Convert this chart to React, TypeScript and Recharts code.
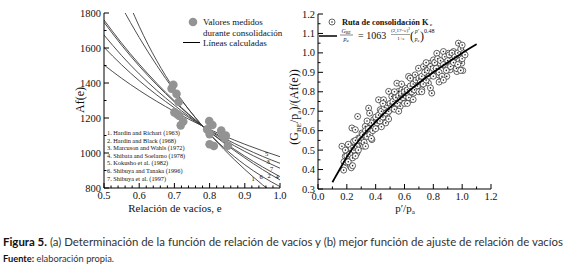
import { ComposedChart, Line, Scatter, XAxis, YAxis } from "recharts";

const SERIF = "'Liberation Serif', 'Times New Roman', serif";
const SANS = "Lato, 'Open Sans', sans-serif";

// ---- (a) void ratio function -------------------------------------------
const E_GRID = [0.5, 0.55, 0.6, 0.7, 0.78, 0.9, 0.95, 1.0];
const AF_HARDIN_RICHART = [2033, 1837, 1660, 1356, 1154, 906, 819, 741];
const AF_HARDIN_BLACK = [1747, 1616, 1497, 1292, 1154, 982, 921, 865];
const AF_MARCUSON = [1604, 1504, 1413, 1258, 1154, 1026, 981, 941];
const AF_SHIBATA = [1760, 1628, 1508, 1298, 1154, 972, 906, 846];
const AF_KOKUSHO = [1503, 1427, 1358, 1237, 1154, 1050, 1013, 979];
const AF_SHIBUYA_TANAKA = [2249, 1962, 1724, 1363, 1154, 933, 865, 808];
const AF_SHIBUYA = [1674, 1557, 1452, 1273, 1154, 1009, 959, 913];

const MEAS_E = [0.697, 0.692, 0.706, 0.712, 0.7, 0.708, 0.714, 0.725, 0.718,
  0.799, 0.808, 0.793, 0.8, 0.8, 0.812, 0.833, 0.838, 0.846, 0.843, 0.852];
const MEAS_AF = [1390, 1368, 1338, 1292, 1232, 1222, 1212, 1180, 1158,
  1182, 1160, 1135, 1108, 1050, 1040, 1128, 1098, 1100, 1085, 1042];

const REFERENCES = [
  "1. Hardin and Richart (1963)",
  "2. Hardin and Black (1968)",
  "3. Marcuson and Wahls (1972)",
  "4. Shibata and Soelarno (1978)",
  "5. Kokusho et al. (1982)",
  "6. Shibuya and Tanaka (1996)",
  "7. Shibuya et al. (1997)",
];

const A_X_MAJOR = [0.5, 0.6, 0.7, 0.8, 0.9, 1.0];
const A_X_MINOR = [0.52, 0.54, 0.56, 0.58, 0.62, 0.64, 0.66, 0.68, 0.72, 0.74, 0.76, 0.78,
  0.82, 0.84, 0.86, 0.88, 0.92, 0.94, 0.96, 0.98];
const A_Y_MAJOR = [800, 1000, 1200, 1400, 1600, 1800];
const A_Y_MINOR = [900, 1100, 1300, 1500, 1700];

// ---- (b) best fit ----------------------------------------------------------
const FIT_P = [0.1, 0.15, 0.2, 0.3, 0.4, 0.5, 0.6, 0.7, 0.8, 0.9, 1.0, 1.1];
const FIT_G = [0.335, 0.4, 0.465, 0.565, 0.645, 0.72, 0.785, 0.845, 0.9, 0.95, 1.0, 1.045];

const KC_P = [
  0.166, 0.178, 0.189, 0.2, 0.212, 0.224, 0.231, 0.224, 0.235, 0.247, 0.259, 0.27, 0.275, 0.282,
  0.293, 0.305, 0.316, 0.328, 0.339, 0.351, 0.358, 0.362, 0.374, 0.386, 0.397, 0.409, 0.42, 0.432,
  0.443, 0.455, 0.466, 0.478, 0.49, 0.501, 0.512, 0.524, 0.536, 0.547, 0.559, 0.57, 0.582, 0.593,
  0.605, 0.616, 0.628, 0.639, 0.651, 0.663, 0.674, 0.686, 0.697, 0.709, 0.72, 0.732, 0.743, 0.755,
  0.766, 0.778, 0.789, 0.801, 0.813, 0.824, 0.836, 0.847, 0.859, 0.87, 0.882, 0.893, 0.905, 0.916,
  0.928, 0.94, 0.951, 0.963, 0.974, 0.986, 0.997, 1.004, 1.009,
  0.18, 0.19, 0.2, 0.21, 0.22, 0.23, 0.24, 0.25, 0.21, 0.24, 0.26, 0.27, 0.28, 0.29, 0.26,
  0.3, 0.31, 0.32, 0.33, 0.34, 0.35, 0.36, 0.37, 0.38, 0.39, 0.4, 0.33, 0.37, 0.4, 0.34,
  0.41, 0.42, 0.43, 0.44, 0.45, 0.46, 0.47, 0.48, 0.49, 0.5, 0.44, 0.47, 0.45, 0.49,
  0.51, 0.52, 0.53, 0.54, 0.55, 0.56, 0.57, 0.58, 0.59, 0.6, 0.53, 0.56, 0.58, 0.6,
  0.61, 0.62, 0.63, 0.64, 0.65, 0.66, 0.67, 0.68, 0.69, 0.7, 0.62, 0.66, 0.64, 0.7,
  0.71, 0.72, 0.73, 0.74, 0.75, 0.76, 0.77, 0.78, 0.79, 0.8, 0.72, 0.75, 0.78, 0.8,
  0.81, 0.82, 0.83, 0.84, 0.85, 0.86, 0.87, 0.88, 0.89, 0.9, 0.84, 0.87,
  0.91, 0.92, 0.93, 0.94, 0.95, 0.96, 0.97, 0.98, 0.99, 1.0, 1.01, 1.02, 0.97, 0.99, 1.0,
];
const KC_G = [
  0.52, 0.397, 0.468, 0.434, 0.494, 0.417, 0.409, 0.52, 0.614, 0.545, 0.605, 0.485, 0.673, 0.562,
  0.52, 0.588, 0.52, 0.622, 0.588, 0.716, 0.69, 0.614, 0.554, 0.656, 0.63, 0.665, 0.759, 0.708,
  0.656, 0.759, 0.716, 0.682, 0.802, 0.708, 0.776, 0.742, 0.776, 0.844, 0.802, 0.725, 0.81, 0.759,
  0.819, 0.793, 0.879, 0.759, 0.827, 0.793, 0.887, 0.836, 0.921, 0.862, 0.81, 0.93, 0.879, 0.913,
  0.844, 0.947, 0.793, 0.964, 0.913, 0.998, 0.887, 0.947, 0.862, 1.007, 0.93, 0.879, 0.998, 0.913,
  0.964, 1.007, 0.938, 0.904, 1.05, 0.99, 0.947, 0.909, 0.998,
  0.44, 0.5, 0.47, 0.44, 0.48, 0.51, 0.46, 0.5, 0.53, 0.42, 0.55, 0.52, 0.5, 0.56, 0.47,
  0.55, 0.58, 0.54, 0.6, 0.57, 0.61, 0.58, 0.64, 0.6, 0.62, 0.67, 0.52, 0.56, 0.61, 0.65,
  0.64, 0.68, 0.65, 0.7, 0.67, 0.72, 0.69, 0.73, 0.7, 0.74, 0.62, 0.64, 0.74, 0.66,
  0.72, 0.75, 0.71, 0.77, 0.74, 0.78, 0.76, 0.79, 0.77, 0.8, 0.8, 0.7, 0.84, 0.74,
  0.78, 0.81, 0.77, 0.83, 0.8, 0.84, 0.81, 0.86, 0.83, 0.87, 0.74, 0.76, 0.87, 0.8,
  0.85, 0.88, 0.84, 0.9, 0.86, 0.91, 0.88, 0.93, 0.9, 0.92, 0.8, 0.95, 0.82, 0.88,
  0.95, 0.92, 0.97, 0.9, 0.96, 0.88, 0.94, 0.98, 0.91, 0.96, 0.85, 0.86,
  0.99, 0.93, 1.0, 0.95, 0.98, 0.92, 1.0, 0.96, 1.02, 0.97, 1.0, 0.99, 0.94, 0.91, 1.04,
];

const B_X_MAJOR = [0, 0.2, 0.4, 0.6, 0.8, 1.0, 1.2];
const B_X_MINOR = [0.1, 0.3, 0.5, 0.7, 0.9, 1.1];
const B_Y_MAJOR = [0.3, 0.4, 0.5, 0.6, 0.7, 0.8, 0.9, 1.0, 1.1, 1.2];
const B_Y_MINOR = [0.35, 0.45, 0.55, 0.65, 0.75, 0.85, 0.95, 1.05, 1.15];

const toPoints = (xs: number[], ys: number[]) => xs.map((x, i) => ({ x, y: ys[i] }));

const aLines = [
  AF_HARDIN_RICHART, AF_HARDIN_BLACK, AF_MARCUSON, AF_SHIBATA,
  AF_KOKUSHO, AF_SHIBUYA_TANAKA, AF_SHIBUYA,
];

const noTick = () => <g />;

// inward tick marks drawn by hand, labels only on the major values
function frameTick(side: string, majors: number[], fmt?: (v: number) => string) {
  return (props: any) => {
    const { x, y, payload } = props;
    const v = payload.value;
    const major = majors.some((m) => Math.abs(m - v) < 1e-9);
    const len = major ? 5 : 2.5;
    let line;
    if (side === "bottom") line = <line x1={x} y1={y} x2={x} y2={y - len} />;
    else if (side === "top") line = <line x1={x} y1={y} x2={x} y2={y + len} />;
    else if (side === "left") line = <line x1={x} y1={y} x2={x + len} y2={y} />;
    else line = <line x1={x} y1={y} x2={x - len} y2={y} />;
    return (
      <g stroke="#000" strokeWidth={1}>
        {line}
        {major && fmt && side === "bottom" && (
          <text x={x} y={y + 11} textAnchor="middle" stroke="none" fill="#111"
            fontFamily={SERIF} fontSize={10.5}>{fmt(v)}</text>
        )}
        {major && fmt && side === "left" && (
          <text x={x - 3} y={y + 3.5} textAnchor="end" stroke="none" fill="#111"
            fontFamily={SERIF} fontSize={10.5}>{fmt(v)}</text>
        )}
      </g>
    );
  };
}

const MeasuredDot = (props: any) => (
  <circle cx={props.cx} cy={props.cy} r={4.3} fill="#939393" />
);

const KcDot = (props: any) => (
  <g>
    <circle cx={props.cx} cy={props.cy} r={3} fill="#fff" stroke="#222" strokeWidth={0.7} />
    <circle cx={props.cx} cy={props.cy} r={0.8} fill="#222" />
  </g>
);

function ChartA() {
  return (
    <ComposedChart width={290} height={215} margin={{ top: 13, right: 10, bottom: 7, left: 44 }}>
      <XAxis xAxisId="b" dataKey="x" type="number" domain={[0.5, 1.0]} allowDataOverflow
        ticks={[...A_X_MAJOR, ...A_X_MINOR]} interval={0} height={20} tickSize={0} tickMargin={0}
        tickLine={false} axisLine={{ stroke: "#000" }}
        tick={frameTick("bottom", A_X_MAJOR, (v) => v.toFixed(1))} />
      <XAxis xAxisId="t" orientation="top" dataKey="x" type="number" domain={[0.5, 1.0]}
        ticks={[...A_X_MAJOR, ...A_X_MINOR]} interval={0} height={0} tickSize={0} tickMargin={0}
        tickLine={false} axisLine={{ stroke: "#000" }} tick={frameTick("top", A_X_MAJOR)} />
      <YAxis yAxisId="l" type="number" domain={[800, 1800]} allowDataOverflow
        ticks={[...A_Y_MAJOR, ...A_Y_MINOR]} interval={0} width={60} tickSize={0} tickMargin={0}
        tickLine={false} axisLine={{ stroke: "#000" }}
        tick={frameTick("left", A_Y_MAJOR, (v) => String(v))} />
      <YAxis yAxisId="r" orientation="right" type="number" domain={[800, 1800]}
        ticks={[...A_Y_MAJOR, ...A_Y_MINOR]} interval={0} width={0} tickSize={0} tickMargin={0}
        tickLine={false} axisLine={{ stroke: "#000" }} tick={frameTick("right", A_Y_MAJOR)} />
      {aLines.map((vals, i) => (
        <Line key={i} xAxisId="b" yAxisId="l" data={toPoints(E_GRID, vals)} dataKey="y"
          type="monotone" stroke="#3a3a3a" strokeWidth={0.9} dot={false} isAnimationActive={false} />
      ))}
      <Scatter xAxisId="b" yAxisId="l" data={toPoints(MEAS_E, MEAS_AF)} dataKey="y"
        shape={MeasuredDot} isAnimationActive={false} />
    </ComposedChart>
  );
}

// layer "points" draws the frame and the scatter, layer "fit" only the curve on top
function ChartB({ layer }: { layer: "points" | "fit" }) {
  const frame = layer === "points";
  return (
    <ComposedChart width={220} height={215} margin={{ top: 14, right: 19, bottom: 6, left: 0 }}>
      <XAxis xAxisId="b" dataKey="x" type="number" domain={[0, 1.2]} allowDataOverflow
        ticks={[...B_X_MAJOR, ...B_X_MINOR]} interval={0} height={20} tickSize={0} tickMargin={0}
        tickLine={false} axisLine={frame ? { stroke: "#000" } : false}
        tick={frame ? frameTick("bottom", B_X_MAJOR, (v) => v.toFixed(1)) : noTick} />
      <XAxis xAxisId="t" orientation="top" dataKey="x" type="number" domain={[0, 1.2]}
        ticks={[...B_X_MAJOR, ...B_X_MINOR]} interval={0} height={0} tickSize={0} tickMargin={0}
        tickLine={false} axisLine={frame ? { stroke: "#000" } : false}
        tick={frame ? frameTick("top", B_X_MAJOR) : noTick} />
      <YAxis yAxisId="l" type="number" domain={[0.3, 1.2]} allowDataOverflow
        ticks={[...B_Y_MAJOR, ...B_Y_MINOR]} interval={0} width={28} tickSize={0} tickMargin={0}
        tickLine={false} axisLine={frame ? { stroke: "#000" } : false}
        tick={frame ? frameTick("left", B_Y_MAJOR, (v) => v.toFixed(1)) : noTick} />
      <YAxis yAxisId="r" orientation="right" type="number" domain={[0.3, 1.2]}
        ticks={[...B_Y_MAJOR, ...B_Y_MINOR]} interval={0} width={0} tickSize={0} tickMargin={0}
        tickLine={false} axisLine={frame ? { stroke: "#000" } : false}
        tick={frame ? frameTick("right", B_Y_MAJOR) : noTick} />
      {frame ? (
        <Scatter xAxisId="b" yAxisId="l" data={toPoints(KC_P, KC_G)} dataKey="y"
          shape={KcDot} isAnimationActive={false} />
      ) : (
        <Line xAxisId="b" yAxisId="l" data={toPoints(FIT_P, FIT_G)} dataKey="y" type="monotone"
          stroke="#000" strokeWidth={1.8} dot={false} isAnimationActive={false} />
      )}
    </ComposedChart>
  );
}

// line numbers printed at the right end of the curves in (a)
const LINE_TAGS = [
  { t: "5", x: 265, y: 155.5 },
  { t: "3", x: 266.5, y: 164 },
  { t: "7", x: 270, y: 170.5 },
  { t: "2", x: 267.5, y: 178 },
  { t: "4", x: 275.5, y: 179 },
  { t: "6", x: 259.5, y: 179 },
  { t: "1", x: 251.5, y: 181 },
];

function Overlay() {
  return (
    <svg width={568} height={280} style={{ position: "absolute", left: 0, top: 0, pointerEvents: "none" }}>
      {/* (a) legend */}
      <circle cx={193} cy={22} r={4.3} fill="#939393" />
      <text x={203} y={25} fontFamily={SERIF} fontSize={9} fill="#111">Valores medidos</text>
      <text x={203} y={35.5} fontFamily={SERIF} fontSize={9} fill="#111">durante consolidación</text>
      <line x1={183} y1={42.5} x2={200} y2={42.5} stroke="#000" strokeWidth={1} />
      <text x={203} y={46} fontFamily={SERIF} fontSize={9} fill="#111">Líneas calculadas</text>
      {REFERENCES.map((r, i) => (
        <text key={r} x={107} y={135 + i * 7.6} fontFamily={SERIF} fontSize={6.3} fill="#111">{r}</text>
      ))}
      {LINE_TAGS.map((l) => (
        <text key={l.t} x={l.x} y={l.y} fontFamily={SERIF} fontSize={6.5} fill="#111">{l.t}</text>
      ))}
      <text transform="translate(84,100) rotate(-90)" textAnchor="middle" fontFamily={SERIF}
        fontSize={12} fill="#111">Af(e)</text>
      <text x={175} y={211.5} textAnchor="middle" fontFamily={SERIF} fontSize={11} fill="#111">
        Relación de vacíos, e
      </text>

      {/* (b) legend */}
      <circle cx={332} cy={22} r={3} fill="#fff" stroke="#222" strokeWidth={0.7} />
      <circle cx={332} cy={22} r={0.8} fill="#222" />
      <text x={342} y={24.5} fontFamily={SERIF} fontSize={8.3} fontWeight="bold" fill="#111">
        Ruta de consolidación K
      </text>
      <text x={430} y={26} fontFamily={SERIF} fontSize={5} fontWeight="bold" fill="#111">c</text>
      <line x1={319} y1={36} x2={337} y2={36} stroke="#000" strokeWidth={1.5} />
      <g fontFamily={SERIF} fill="#111">
        <text x={346} y={33} textAnchor="middle" fontSize={6} fontStyle="italic">
          G<tspan dy={1} fontSize={4}>BE</tspan>
        </text>
        <line x1={340} y1={35} x2={353} y2={35} stroke="#111" strokeWidth={0.5} />
        <text x={346} y={41} textAnchor="middle" fontSize={6} fontStyle="italic">
          p<tspan dy={1} fontSize={4}>a</tspan>
        </text>
        <text x={358} y={38.5} fontSize={10}>= 1063</text>
        <text x={400.5} y={32} textAnchor="middle" fontSize={5}>
          (2,17−e)<tspan dy={-2} fontSize={3.5}>2</tspan>
        </text>
        <line x1={391} y1={34.5} x2={410} y2={34.5} stroke="#111" strokeWidth={0.4} />
        <text x={401} y={40} textAnchor="middle" fontSize={5}>1+e</text>
        <text x={410} y={40} fontSize={12}>(</text>
        <text x={417} y={33} textAnchor="middle" fontSize={5.5} fontStyle="italic">p′</text>
        <text x={417} y={40.5} textAnchor="middle" fontSize={5.5} fontStyle="italic">
          p<tspan dy={1} fontSize={3.5}>a</tspan>
        </text>
        <text x={420} y={40} fontSize={12}>)</text>
        <text x={424} y={33} fontSize={6}>0.48</text>
      </g>
      <text transform="translate(298,107) rotate(-90)" textAnchor="middle" fontFamily={SERIF}
        fontSize={12} fill="#111">
        (G<tspan dy={2.5} fontSize={7}>BE</tspan><tspan dy={-2.5}>/p</tspan>
        <tspan dy={2.5} fontSize={7}>a</tspan><tspan dy={-2.5}>)/(Af(e))</tspan>
      </text>
      <text x={405} y={211.5} textAnchor="middle" fontFamily={SERIF} fontSize={11} fill="#111">
        p′/p<tspan dy={2.5} fontSize={7}>a</tspan>
      </text>

      {/* caption */}
      <text x={3} y={246} fontFamily={SANS} fontSize={10.5} fill="#333" textLength={560}
        lengthAdjust="spacingAndGlyphs">
        <tspan fontWeight="bold" fill="#111">Figura 5.</tspan> (a) Determinación de la función de relación de vacíos y (b) mejor función de ajuste de relación de vacíos
      </text>
      <text x={3} y={262} fontFamily={SANS} fontSize={9.3} fill="#333">
        <tspan fontWeight="bold" fill="#111">Fuente:</tspan> elaboración propia.
      </text>
    </svg>
  );
}

export default function App() {
  return (
    <div style={{ position: "absolute", left: 0, top: 0, width: 568, height: 280, background: "#fff" }}>
      <div style={{ position: "absolute", left: 0, top: 0 }}>
        <ChartA />
      </div>
      <div style={{ position: "absolute", left: 290, top: 0 }}>
        <ChartB layer="points" />
      </div>
      <div style={{ position: "absolute", left: 290, top: 0 }}>
        <ChartB layer="fit" />
      </div>
      <Overlay />
    </div>
  );
}
